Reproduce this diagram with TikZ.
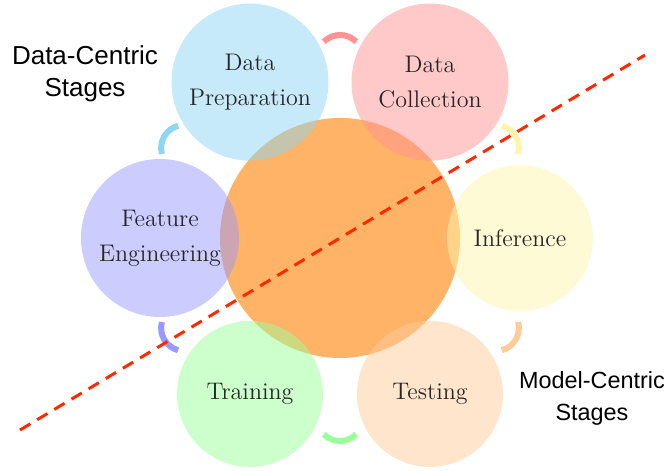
\documentclass[tikz,border=0pt]{standalone}
\usepackage{fontspec}
\newfontfamily\labelfont{Liberation Sans}
\definecolor{collc}{RGB}{255,147,147}
\definecolor{prepc}{RGB}{141,213,243}
\definecolor{featc}{RGB}{153,153,255}
\definecolor{trainc}{RGB}{153,255,153}
\definecolor{testc}{RGB}{255,203,153}
\definecolor{infc}{RGB}{255,245,173}
\definecolor{cutc}{RGB}{255,40,0}
\tikzset{gap/.style={line width=3pt}}
\begin{document}
\begin{tikzpicture}[x=0.5pt,y=0.5pt]
	\useasboundingbox (-340,-232) rectangle (327,238);
	\node (M) at (0,0) [circle,fill=orange,fill opacity=0.6,minimum size=120pt]{};

	\begin{scope}[every node/.style={circle,fill opacity=0.5,text opacity=1,
		text=black!85,align=center,minimum size=73pt,
		font=\fontsize{12}{17.5}\selectfont}]
	\node (DC) at (60:180) [fill=collc,minimum size=78.5pt]{Data\\Collection};
	\node (DP) at (120:180) [fill=prepc,minimum size=78.5pt]{Data\\Preparation};
	\node (FE) at (180:180) [fill=featc,minimum size=79pt]{Feature\\Engineering};
	\node (TR) at (240:180) [fill=trainc]{Training};
	\node (TE) at (300:180) [fill=testc]{Testing};
	\node (IN) at (0:180) [fill=infc]{Inference};
	\end{scope}

	% gaps between the stages
	\coordinate (G1) at (90:180);
	\coordinate (G2) at (150:180);
	\coordinate (G3) at (210:180);
	\coordinate (G4) at (270:180);
	\coordinate (G5) at (330:180);
	\coordinate (G6) at (30:180);
	\draw[gap,collc] (G1) ++(45:11.5pt) arc[start angle=45,end angle=135,radius=11.5pt];
	\draw[gap,prepc] (G2) ++(105:11.5pt) arc[start angle=105,end angle=195,radius=11.5pt];
	\draw[gap,featc] (G3) ++(165:11.5pt) arc[start angle=165,end angle=255,radius=11.5pt];
	\draw[gap,trainc] (G4) ++(225:11.5pt) arc[start angle=225,end angle=315,radius=11.5pt];
	\draw[gap,testc] (G5) ++(285:11.5pt) arc[start angle=285,end angle=375,radius=11.5pt];
	\draw[gap,infc] (G6) ++(-15:11.5pt) arc[start angle=-15,end angle=75,radius=11.5pt];

	\node (DCS) at (-255,164.5) [align=center,font=\labelfont\fontsize{13}{16}\selectfont]{Data-Centric\\Stages};
	\node (MCS) at (252,-160) [align=center,font=\labelfont\fontsize{11.7}{16}\selectfont]{Model-Centric\\Stages};

	\coordinate (L1) at (-320,-192);
	\coordinate (L2) at (305,183);
	\draw[cutc,line width=1.5pt,dash pattern=on 6pt off 4pt] (L1) -- (L2);
\end{tikzpicture}
\end{document}
